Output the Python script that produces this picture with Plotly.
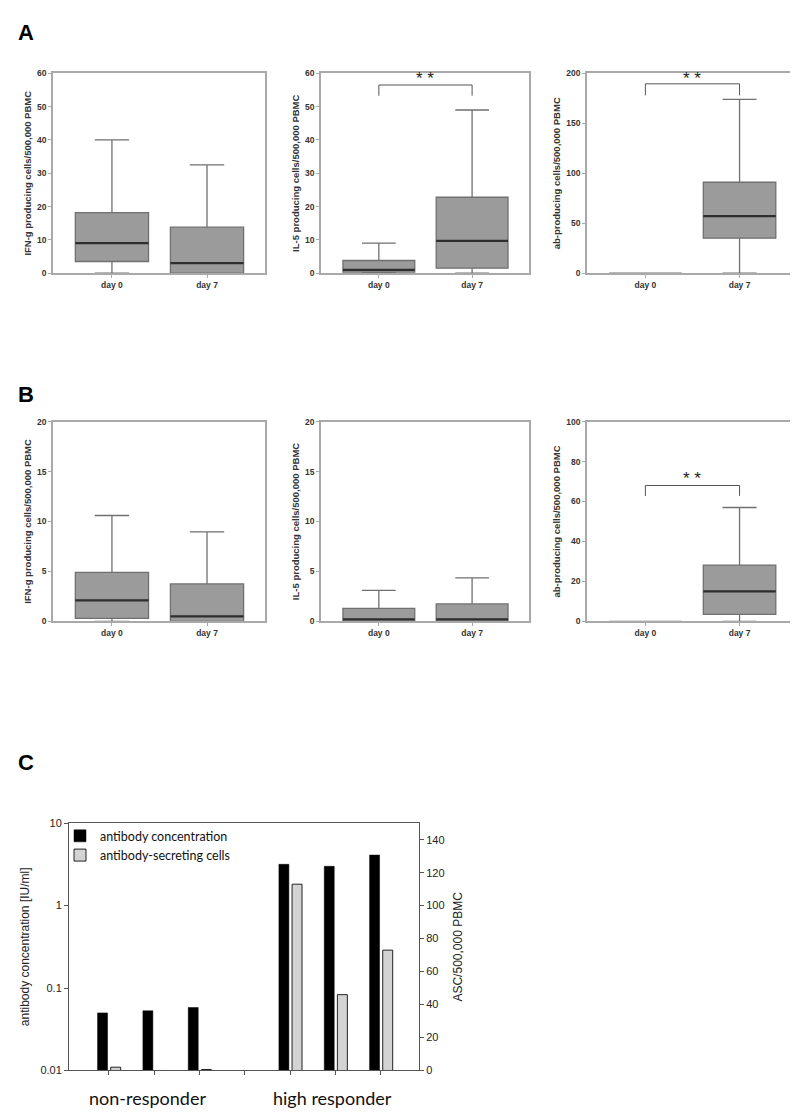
import plotly.graph_objects as go

# ---------------- data ----------------
DAYS = ["day 0", "day 7"]
# stats order: [min, q1, median, q3, max]
A_IFNG_DAY0 = [0, 3.5, 9.0, 18.2, 40.0]
A_IFNG_DAY7 = [0, 0.0, 3.0, 13.8, 32.5]
A_IL5_DAY0 = [0, 0.3, 1.0, 3.8, 9.0]
A_IL5_DAY7 = [0, 1.5, 9.7, 22.8, 49.0]
A_AB_DAY0 = [0, 0, 0, 0, 0]
A_AB_DAY7 = [0, 35.0, 57.0, 91.0, 174.0]
B_IFNG_DAY0 = [0, 0.3, 2.1, 4.9, 10.6]
B_IFNG_DAY7 = [0, 0.0, 0.5, 3.75, 8.95]
B_IL5_DAY0 = [0, 0.0, 0.2, 1.3, 3.1]
B_IL5_DAY7 = [0, 0.0, 0.2, 1.75, 4.35]
B_AB_DAY0 = [0, 0, 0, 0, 0]
B_AB_DAY7 = [0, 3.5, 15.0, 28.2, 57.0]

Y_MAX = {"A1": 60, "A2": 60, "A3": 200, "B1": 20, "B2": 20, "B3": 100}
Y_DTICK = {"A1": 10, "A2": 10, "A3": 50, "B1": 5, "B2": 5, "B3": 20}
Y_TITLES = {
    "A1": "IFN-g producing cells/500,000 PBMC",
    "A2": "IL-5 producing cells/500,000 PBMC",
    "A3": "ab-producing cells/500,000 PBMC",
    "B1": "IFN-g producing cells/500,000 PBMC",
    "B2": "IL-5 producing cells/500,000 PBMC",
    "B3": "ab-producing cells/500,000 PBMC",
}
# significance brackets: [leg bottom, bracket top, star height]
BRACKETS = {"A2": [53.3, 56.5, 58.6], "A3": [178, 189.5, 195], "B3": [62.8, 68, 71.5]}
STARS = "* *"

# panel C
SUBJECTS = ["NR1", "NR2", "NR3", "HR1", "HR2", "HR3"]
GROUPS = ["non-responder"] * 3 + ["high responder"] * 3
AB_CONC = [0.050, 0.053, 0.058, 3.17, 3.0, 4.1]   # IU/ml
ASC = [2, 0, 0.6, 113, 46, 73]                    # ASC/500,000 PBMC
SERIES_NAMES = ["antibody concentration", "antibody-secreting cells"]
GROUP_LABELS = ["non-responder", "high responder"]
GROUP_LABEL_SHIFT = {"non-responder": -7, "high responder": -3}

# ---------------- layout helpers ----------------
W, H = 798, 1114
def xd(a, b):
    return [a / W, b / W]
def yd(top, bottom):
    return [1 - bottom / H, 1 - top / H]

BOX_FILL = "#9b9b9b"
BOX_LINE = "#707070"
FRAME = "#a9a9a9"
TXT = "#333333"
FONT = "Liberation Sans, Arial, sans-serif"

panels = [
    ("A1", A_IFNG_DAY0, A_IFNG_DAY7, xd(45, 257), yd(60, 262)),
    ("A2", A_IL5_DAY0, A_IL5_DAY7, xd(313, 521), yd(60, 262)),
    ("A3", A_AB_DAY0, A_AB_DAY7, xd(579, 789), yd(60, 262)),
    ("B1", B_IFNG_DAY0, B_IFNG_DAY7, xd(45, 257), yd(412, 614)),
    ("B2", B_IL5_DAY0, B_IL5_DAY7, xd(313, 521), yd(412, 614)),
    ("B3", B_AB_DAY0, B_AB_DAY7, xd(579, 789), yd(412, 614)),
]

fig = go.Figure()
layout = {}
annotations = []
BOX_W = 0.77
pos = [0, 1]

for i, (key, d0, d7, xdom, ydom) in enumerate(panels, start=1):
    xa = "x" if i == 1 else f"x{i}"
    ya = "y" if i == 1 else f"y{i}"
    stats = [d0, d7]
    fig.add_trace(go.Box(
        x=pos,
        lowerfence=[s[0] for s in stats],
        q1=[s[1] for s in stats],
        median=[s[2] for s in stats],
        q3=[s[3] for s in stats],
        upperfence=[s[4] for s in stats],
        width=BOX_W, whiskerwidth=0.47,
        fillcolor=BOX_FILL, line=dict(color=BOX_LINE, width=1.3),
        boxpoints=False, showlegend=False, hoverinfo="skip",
        xaxis=xa, yaxis=ya,
    ))
    # darker median lines
    for p, s in zip(pos, stats):
        if s[3] > s[1]:
            fig.add_trace(go.Scatter(
                x=[p - BOX_W / 2, p + BOX_W / 2], y=[s[2], s[2]], mode="lines",
                line=dict(color="#2e2e2e", width=2.2), showlegend=False,
                hoverinfo="skip", xaxis=xa, yaxis=ya, cliponaxis=False))
    if key in BRACKETS:
        lo, top, st = BRACKETS[key]
        fig.add_trace(go.Scatter(
            x=[0, 0, 1, 1], y=[lo, top, top, lo], mode="lines",
            line=dict(color="#555555", width=1), showlegend=False,
            hoverinfo="skip", xaxis=xa, yaxis=ya))
        annotations.append(dict(x=0.5, y=st, xref=xa, yref=ya, text=STARS,
                                showarrow=False, yanchor="middle",
                                font=dict(size=17, color="#222", family=FONT)))
    axkey = "xaxis" if i == 1 else f"xaxis{i}"
    aykey = "yaxis" if i == 1 else f"yaxis{i}"
    layout[axkey] = dict(
        domain=xdom, anchor=ya, range=[-0.62, 1.61], tickvals=pos, ticktext=DAYS,
        ticks="outside", ticklen=3, tickcolor=FRAME, showline=True, linecolor=FRAME,
        linewidth=1.5, mirror=True, showgrid=False, zeroline=False,
        tickfont=dict(size=8.5, color=TXT, family=FONT, weight="bold"))
    layout[aykey] = dict(
        domain=ydom, anchor=xa, range=[0, Y_MAX[key]], dtick=Y_DTICK[key],
        ticks="outside", ticklen=3, tickcolor=FRAME, showline=True, linecolor=FRAME,
        linewidth=1.5, mirror=True, showgrid=False, zeroline=False,
        tickfont=dict(size=8.5, color=TXT, family=FONT, weight="bold"),
        title=dict(text=Y_TITLES[key], standoff=4,
                   font=dict(size=9.5, color=TXT, family=FONT, weight="bold")))

# ---------------- panel C ----------------
slots = []
for idx, g in enumerate(GROUPS):
    slots.append(idx + (1 if g == "high responder" else 0))

fig.add_trace(go.Bar(
    x=slots, y=AB_CONC, name=SERIES_NAMES[0], width=0.22, offset=-0.25,
    marker=dict(color="black", line=dict(color="black", width=0.5)),
    xaxis="x7", yaxis="y7"))
fig.add_trace(go.Bar(
    x=slots, y=ASC, name=SERIES_NAMES[1], width=0.22, offset=0.04,
    marker=dict(color="#d3d3d3", line=dict(color="#222222", width=1)),
    xaxis="x7", yaxis="y8"))

CF = "Lato, Open Sans, sans-serif"
layout["xaxis7"] = dict(
    domain=xd(61, 411), anchor="y7", range=[-0.88, 6.84], tickvals=list(range(7)),
    ticktext=[""] * 7, ticks="outside", ticklen=4, tickcolor="#555", showline=True,
    linecolor="#555", linewidth=1, mirror=True, showgrid=False, zeroline=False)
layout["yaxis7"] = dict(
    domain=yd(818, 1068), anchor="x7", type="log", range=[-2, 1],
    tickvals=[0.01, 0.1, 1, 10], ticktext=["0.01", "0.1", "1", "10"],
    ticks="outside", ticklen=4, tickcolor="#555", showline=True, linecolor="#555",
    linewidth=1, showgrid=False, zeroline=False,
    tickfont=dict(size=11, color="#222", family=FONT),
    title=dict(text="antibody concentration [IU/ml]", standoff=8,
               font=dict(size=12, color="#222", family=FONT)))
layout["yaxis8"] = dict(
    overlaying="y7", anchor="x7", side="right", range=[0, 150], dtick=20,
    ticks="outside", ticklen=4, tickcolor="#555", showline=True, linecolor="#555",
    linewidth=1, showgrid=False, zeroline=False,
    tickfont=dict(size=11, color="#222", family=FONT),
    title=dict(text="ASC/500,000 PBMC", standoff=10,
               font=dict(size=12, color="#222", family=FONT)))

# group labels
for gl in GROUP_LABELS:
    members = [s for s, g in zip(slots, GROUPS) if g == gl]
    annotations.append(dict(x=sum(members) / len(members), y=1 - 1096 / H, xref="x7", yref="paper",
                            text=gl, showarrow=False, yanchor="middle",
                            xshift=GROUP_LABEL_SHIFT[gl],
                            font=dict(size=18, color="#111", family=CF)))

# panel letters
for letter, yy in [("A", 19), ("B", 385), ("C", 757)]:
    annotations.append(dict(x=8 / W, y=1 - yy / H, xref="paper", yref="paper", text=letter,
                            showarrow=False, xanchor="left", yanchor="middle",
                            font=dict(size=22, color="black", family=FONT, weight="bold")))

fig.update_layout(
    width=W, height=H, margin=dict(l=0, r=0, t=0, b=0),
    paper_bgcolor="white", plot_bgcolor="white",
    barmode="overlay", annotations=annotations,
    legend=dict(x=52 / W, y=1 - 816 / H, xanchor="left", yanchor="top",
                bgcolor="rgba(0,0,0,0)", font=dict(size=12.5, color="#111", family=CF),
                itemwidth=30, tracegroupgap=0),
    **layout,
)

fig.write_html("out.html")
